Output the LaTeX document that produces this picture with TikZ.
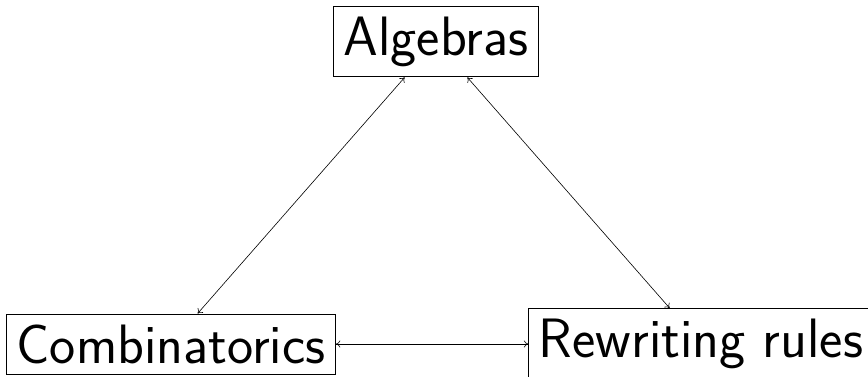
\documentclass[tikz,border=0pt]{standalone}
\usetikzlibrary{arrows.meta}
\begin{document}
\begin{tikzpicture}[x=1pt,y=1pt,
  box/.style={draw, line width=0.9pt, font=\sffamily\fontsize{55.5}{66}\selectfont, inner xsep=10pt, inner ysep=10.5pt},
  link/.style={{To[length=4.5pt,width=7pt]}-{To[length=4.5pt,width=7pt]}, line width=0.6pt}]
\useasboundingbox (-436,-335.5) rectangle (432,41.5);
\node[box] (alg) at (0,0) {Algebras};
\node[box] (comb) at (-265,-302.5) {Combinatorics};
\node[box] (rew) at (265,-302.5) {Rewriting rules};
\draw[link] (alg) -- (comb);
\draw[link] (alg) -- (rew);
\draw[link] (comb) -- (rew);
\end{tikzpicture}
\end{document}
